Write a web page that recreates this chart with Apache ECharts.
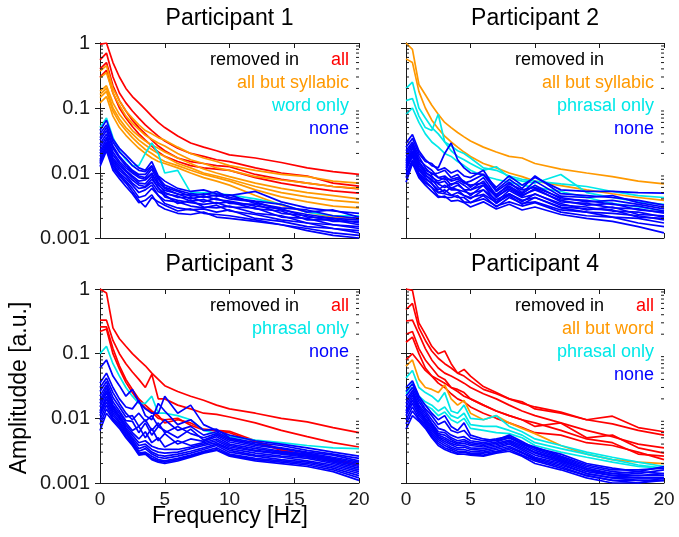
<!DOCTYPE html>
<html>
<head>
<meta charset="utf-8">
<script src="https://cdn.jsdelivr.net/npm/echarts@6/dist/echarts.min.js"></script>
<style>
  html, body { margin: 0; padding: 0; background: #fff; }
  #chart { width: 679px; height: 537px; }
</style>
</head>
<body>
<div id="chart"></div>
<script>
// frequency grid (Hz) shared by every spectrum
const freq = [0, 0.5, 1, 1.5, 2, 2.5, 3, 3.5, 4, 4.5, 5, 6, 7, 8, 9, 10, 12, 14, 16, 18, 20]
const xTicks = [0, 5, 10, 15, 20]
const yTickLabels = ['0.001', '0.01', '0.1', '1']
const yMinorTicks = [0.002, 0.003, 0.004, 0.005, 0.006, 0.007, 0.008, 0.009,
  0.02, 0.03, 0.04, 0.05, 0.06, 0.07, 0.08, 0.09,
  0.2, 0.3, 0.4, 0.5, 0.6, 0.7, 0.8, 0.9]
const titles = ['Participant 1', 'Participant 2', 'Participant 3', 'Participant 4']

// Participant 1
const p1All = [
  [0.95, 1.0, 0.5, 0.3, 0.2, 0.15, 0.12, 0.095, 0.075, 0.06, 0.05, 0.037, 0.029, 0.025, 0.022, 0.019, 0.017, 0.0145, 0.012, 0.0105, 0.0095],
  [0.55, 0.7, 0.3, 0.17, 0.12, 0.09, 0.07, 0.055, 0.045, 0.037, 0.031, 0.024, 0.02, 0.018, 0.016, 0.015, 0.012, 0.01, 0.009, 0.007, 0.0063],
  [0.4, 0.5, 0.22, 0.13, 0.09, 0.065, 0.05, 0.04, 0.032, 0.026, 0.022, 0.017, 0.015, 0.014, 0.013, 0.0125, 0.0095, 0.008, 0.007, 0.0062, 0.0057],
  [0.3, 0.38, 0.17, 0.1, 0.07, 0.052, 0.04, 0.032, 0.026, 0.021, 0.018, 0.015, 0.013, 0.012, 0.0115, 0.011, 0.0085, 0.007, 0.006, 0.0053, 0.0049]
]
const p1ButSyl = [
  [0.37, 0.45, 0.2, 0.13, 0.09, 0.07, 0.055, 0.045, 0.04, 0.035, 0.032, 0.025, 0.02, 0.017, 0.015, 0.013, 0.011, 0.0095, 0.0088, 0.0075, 0.007],
  [0.29, 0.35, 0.17, 0.11, 0.075, 0.058, 0.047, 0.038, 0.033, 0.029, 0.026, 0.02, 0.016, 0.014, 0.012, 0.011, 0.0088, 0.0078, 0.007, 0.0062, 0.0058],
  [0.18, 0.22, 0.12, 0.08, 0.06, 0.045, 0.037, 0.031, 0.027, 0.024, 0.021, 0.017, 0.014, 0.0115, 0.01, 0.0088, 0.007, 0.0058, 0.005, 0.0045, 0.004],
  [0.16, 0.2, 0.1, 0.068, 0.05, 0.04, 0.032, 0.027, 0.023, 0.02, 0.018, 0.014, 0.012, 0.01, 0.009, 0.008, 0.0062, 0.005, 0.0043, 0.0038, 0.0035],
  [0.145, 0.18, 0.09, 0.06, 0.045, 0.035, 0.028, 0.023, 0.02, 0.017, 0.015, 0.013, 0.011, 0.0095, 0.0085, 0.0075, 0.0055, 0.0043, 0.0036, 0.0031, 0.0029],
  [0.12, 0.15, 0.075, 0.05, 0.038, 0.03, 0.024, 0.02, 0.017, 0.015, 0.014, 0.012, 0.01, 0.0085, 0.0075, 0.0065, 0.0045, 0.0032, 0.0025, 0.0021, 0.002]
]
const p1Word = [
  [0.05, 0.07, 0.035, 0.022, 0.016, 0.013, 0.013, 0.02, 0.029, 0.02, 0.01, 0.011, 0.005, 0.005, 0.0048, 0.0046, 0.004, 0.0033, 0.0025, 0.0022, 0.0022]
]
const p1None = [
  [0.045, 0.065, 0.033, 0.024, 0.019, 0.015, 0.012, 0.011, 0.015, 0.009, 0.0075, 0.0058, 0.0052, 0.0055, 0.0048, 0.0045, 0.0052, 0.0036, 0.0029, 0.0026, 0.0024],
  [0.04, 0.055, 0.03, 0.021, 0.017, 0.013, 0.011, 0.0105, 0.013, 0.0085, 0.0065, 0.0054, 0.0048, 0.0046, 0.0052, 0.0042, 0.0037, 0.0033, 0.0025, 0.0027, 0.0021],
  [0.035, 0.05, 0.026, 0.018, 0.014, 0.011, 0.0095, 0.0095, 0.0125, 0.008, 0.006, 0.0052, 0.0044, 0.0048, 0.0044, 0.0046, 0.0034, 0.0029, 0.0027, 0.0022, 0.002],
  [0.032, 0.045, 0.024, 0.017, 0.013, 0.0105, 0.009, 0.0085, 0.0115, 0.0072, 0.0058, 0.0047, 0.0046, 0.0042, 0.0046, 0.004, 0.0036, 0.0027, 0.0023, 0.002, 0.0019],
  [0.028, 0.04, 0.021, 0.015, 0.012, 0.01, 0.0085, 0.008, 0.01, 0.0065, 0.0054, 0.0048, 0.004, 0.0044, 0.0039, 0.0037, 0.0031, 0.0028, 0.0021, 0.002, 0.0017],
  [0.025, 0.036, 0.019, 0.014, 0.011, 0.009, 0.0075, 0.0078, 0.0095, 0.0068, 0.005, 0.0042, 0.0042, 0.0036, 0.0041, 0.0034, 0.0033, 0.0024, 0.0022, 0.0018, 0.0018],
  [0.022, 0.033, 0.017, 0.013, 0.0105, 0.0085, 0.007, 0.0068, 0.0088, 0.0058, 0.0048, 0.0044, 0.0037, 0.0039, 0.0034, 0.0036, 0.0028, 0.0026, 0.0019, 0.0019, 0.0016],
  [0.02, 0.03, 0.016, 0.012, 0.0095, 0.0078, 0.0065, 0.0062, 0.008, 0.006, 0.0043, 0.0038, 0.0035, 0.0033, 0.0035, 0.003, 0.0029, 0.0021, 0.002, 0.0016, 0.0015],
  [0.018, 0.028, 0.015, 0.011, 0.009, 0.007, 0.0058, 0.006, 0.0072, 0.0052, 0.0046, 0.0034, 0.0038, 0.003, 0.0029, 0.0031, 0.0024, 0.0022, 0.0017, 0.0016, 0.0014],
  [0.016, 0.026, 0.014, 0.01, 0.0082, 0.0065, 0.005, 0.0055, 0.0065, 0.0045, 0.0038, 0.0036, 0.0031, 0.0029, 0.0032, 0.0026, 0.0023, 0.0019, 0.0017, 0.0014, 0.0013],
  [0.015, 0.025, 0.013, 0.0095, 0.0075, 0.0058, 0.0042, 0.0045, 0.0058, 0.0045, 0.0034, 0.0029, 0.0027, 0.0028, 0.0025, 0.0027, 0.002, 0.0018, 0.0015, 0.0014, 0.0012],
  [0.014, 0.024, 0.012, 0.009, 0.007, 0.0052, 0.0038, 0.003, 0.0042, 0.0036, 0.0032, 0.0026, 0.0028, 0.0024, 0.0023, 0.0022, 0.0019, 0.0016, 0.0014, 0.0012, 0.0011],
  [0.0126, 0.022, 0.011, 0.0082, 0.0062, 0.0048, 0.0035, 0.0038, 0.0046, 0.0032, 0.0028, 0.0024, 0.0023, 0.0025, 0.0021, 0.002, 0.0018, 0.0016, 0.0013, 0.0011, 0.001]
]

// Participant 2
const p2ButSyl = [
  [1.0, 0.8, 0.23, 0.16, 0.11, 0.08, 0.06, 0.05, 0.042, 0.036, 0.031, 0.025, 0.021, 0.018, 0.017, 0.014, 0.0115, 0.01, 0.0088, 0.0075, 0.0068],
  [0.57, 0.5, 0.18, 0.1, 0.065, 0.048, 0.037, 0.03, 0.025, 0.021, 0.018, 0.014, 0.012, 0.01, 0.0088, 0.0075, 0.0064, 0.0055, 0.0048, 0.0042, 0.0038]
]
const p2Phrasal = [
  [0.2, 0.25, 0.1, 0.07, 0.05, 0.04, 0.03, 0.026, 0.022, 0.02, 0.017, 0.012, 0.011, 0.009, 0.008, 0.0075, 0.0068, 0.0062, 0.0052, 0.0045, 0.0042],
  [0.13, 0.14, 0.075, 0.05, 0.045, 0.08, 0.03, 0.022, 0.018, 0.016, 0.014, 0.011, 0.0125, 0.0085, 0.0075, 0.007, 0.0095, 0.005, 0.0042, 0.0036, 0.0033],
  [0.08, 0.1, 0.06, 0.04, 0.03, 0.025, 0.02, 0.018, 0.015, 0.013, 0.011, 0.009, 0.008, 0.0072, 0.0065, 0.006, 0.0052, 0.0042, 0.0034, 0.003, 0.0026]
]
const p2None = [
  [0.029, 0.039, 0.022, 0.016, 0.013, 0.012, 0.02, 0.029, 0.016, 0.012, 0.01, 0.0095, 0.006, 0.009, 0.0065, 0.0085, 0.0055, 0.0052, 0.0052, 0.005, 0.0049],
  [0.025, 0.034, 0.02, 0.015, 0.014, 0.011, 0.012, 0.01, 0.011, 0.009, 0.0085, 0.011, 0.0055, 0.008, 0.0058, 0.009, 0.0048, 0.0045, 0.0042, 0.0038, 0.0032],
  [0.022, 0.03, 0.018, 0.012, 0.0095, 0.01, 0.011, 0.0085, 0.0095, 0.007, 0.0075, 0.0095, 0.0052, 0.0072, 0.005, 0.0075, 0.0044, 0.0042, 0.0045, 0.0035, 0.003],
  [0.02, 0.028, 0.016, 0.013, 0.011, 0.0085, 0.008, 0.008, 0.0085, 0.0075, 0.006, 0.0085, 0.0045, 0.0068, 0.0055, 0.006, 0.0042, 0.0036, 0.0038, 0.0033, 0.0028],
  [0.018, 0.026, 0.015, 0.011, 0.01, 0.0085, 0.009, 0.0075, 0.008, 0.007, 0.0065, 0.007, 0.0047, 0.0063, 0.0048, 0.0065, 0.004, 0.0038, 0.0033, 0.0031, 0.0026],
  [0.016, 0.024, 0.014, 0.0105, 0.0085, 0.0075, 0.0085, 0.0065, 0.0075, 0.0065, 0.0055, 0.0075, 0.0042, 0.006, 0.0046, 0.0055, 0.0038, 0.0032, 0.0034, 0.0027, 0.0025],
  [0.015, 0.022, 0.013, 0.01, 0.009, 0.0068, 0.006, 0.0068, 0.007, 0.0055, 0.0055, 0.0065, 0.0043, 0.0057, 0.0044, 0.0058, 0.0036, 0.0034, 0.0029, 0.0028, 0.0024],
  [0.014, 0.021, 0.012, 0.0095, 0.0075, 0.007, 0.0075, 0.0058, 0.0065, 0.0056, 0.0045, 0.0065, 0.0036, 0.0054, 0.0042, 0.0047, 0.0034, 0.0027, 0.003, 0.0023, 0.0022],
  [0.013, 0.02, 0.0115, 0.009, 0.008, 0.006, 0.005, 0.006, 0.0055, 0.0052, 0.0048, 0.0055, 0.0039, 0.0048, 0.0036, 0.0048, 0.0032, 0.003, 0.0026, 0.0025, 0.0021],
  [0.012, 0.019, 0.011, 0.0085, 0.0068, 0.0055, 0.0065, 0.0055, 0.0055, 0.0045, 0.004, 0.0055, 0.0034, 0.0048, 0.0038, 0.0042, 0.003, 0.0028, 0.0027, 0.0021, 0.002],
  [0.011, 0.018, 0.01, 0.008, 0.007, 0.005, 0.0048, 0.0045, 0.005, 0.0045, 0.0042, 0.0047, 0.0035, 0.0045, 0.0033, 0.0042, 0.0029, 0.0025, 0.0024, 0.0022, 0.0019],
  [0.0095, 0.016, 0.0095, 0.0075, 0.006, 0.005, 0.0055, 0.0046, 0.0042, 0.0042, 0.0035, 0.0045, 0.003, 0.0042, 0.0034, 0.0036, 0.0027, 0.0025, 0.0021, 0.002, 0.0017],
  [0.0085, 0.015, 0.009, 0.007, 0.006, 0.0044, 0.0042, 0.0042, 0.0045, 0.0036, 0.0035, 0.004, 0.0031, 0.0036, 0.0031, 0.0035, 0.0025, 0.0022, 0.0021, 0.0017, 0.0015],
  [0.0072, 0.014, 0.0085, 0.0065, 0.0052, 0.0042, 0.0044, 0.0037, 0.0038, 0.0035, 0.003, 0.0036, 0.0028, 0.0033, 0.0027, 0.003, 0.0023, 0.002, 0.0018, 0.0015, 0.0012]
]

// Participant 3
const p3All = [
  [1.0, 0.87, 0.25, 0.17, 0.13, 0.1, 0.08, 0.065, 0.05, 0.04, 0.032, 0.026, 0.022, 0.019, 0.016, 0.014, 0.012, 0.01, 0.0088, 0.0072, 0.006],
  [0.33, 0.33, 0.16, 0.1, 0.07, 0.052, 0.04, 0.03, 0.048, 0.02, 0.02, 0.016, 0.014, 0.012, 0.0115, 0.0105, 0.0085, 0.0065, 0.0052, 0.0042, 0.0036],
  [0.26, 0.26, 0.12, 0.065, 0.04, 0.028, 0.02, 0.016, 0.013, 0.011, 0.0085, 0.0095, 0.0085, 0.0068, 0.0065, 0.0063, 0.0045, 0.0033, 0.0027, 0.0023, 0.002],
  [0.22, 0.24, 0.1, 0.058, 0.036, 0.025, 0.018, 0.0145, 0.0125, 0.01, 0.0095, 0.01, 0.0078, 0.0066, 0.0064, 0.006, 0.0043, 0.0032, 0.0026, 0.0022, 0.0019]
]
const p3Phrasal = [
  [0.1, 0.13, 0.07, 0.045, 0.03, 0.022, 0.017, 0.017, 0.022, 0.012, 0.012, 0.011, 0.0095, 0.0065, 0.0058, 0.0052, 0.0046, 0.0042, 0.0038, 0.0035, 0.0034]
]
const p3None = [
  [0.06, 0.08, 0.045, 0.032, 0.022, 0.028, 0.018, 0.014, 0.012, 0.012, 0.022, 0.012, 0.016, 0.008, 0.0065, 0.0055, 0.0045, 0.004, 0.0035, 0.003, 0.0026],
  [0.035, 0.05, 0.03, 0.02, 0.015, 0.014, 0.019, 0.011, 0.0095, 0.017, 0.013, 0.008, 0.0095, 0.0065, 0.0068, 0.005, 0.0042, 0.0038, 0.0032, 0.0028, 0.0024],
  [0.03, 0.042, 0.025, 0.017, 0.012, 0.0095, 0.012, 0.009, 0.011, 0.0075, 0.0095, 0.0065, 0.0075, 0.0055, 0.0062, 0.0048, 0.004, 0.0035, 0.003, 0.0027, 0.0022],
  [0.026, 0.037, 0.021, 0.015, 0.0105, 0.011, 0.0075, 0.0095, 0.0065, 0.0085, 0.006, 0.0075, 0.0058, 0.005, 0.0058, 0.0046, 0.0038, 0.0034, 0.0029, 0.0025, 0.0021],
  [0.022, 0.033, 0.018, 0.013, 0.0092, 0.009, 0.006, 0.0085, 0.0055, 0.0075, 0.0065, 0.005, 0.0068, 0.0046, 0.0055, 0.0043, 0.0036, 0.0031, 0.0028, 0.0024, 0.002],
  [0.019, 0.03, 0.016, 0.012, 0.0085, 0.0065, 0.0075, 0.005, 0.007, 0.0045, 0.0058, 0.004, 0.0048, 0.0044, 0.0052, 0.004, 0.0034, 0.003, 0.0027, 0.0023, 0.0019],
  [0.017, 0.027, 0.015, 0.011, 0.0078, 0.006, 0.0048, 0.0062, 0.0042, 0.005, 0.0036, 0.0045, 0.0038, 0.0042, 0.0048, 0.0038, 0.0032, 0.0029, 0.0026, 0.0022, 0.0018],
  [0.015, 0.025, 0.014, 0.0105, 0.0072, 0.0055, 0.0042, 0.0045, 0.0037, 0.0034, 0.0033, 0.0033, 0.0036, 0.004, 0.0045, 0.0036, 0.0031, 0.0028, 0.0025, 0.0021, 0.0017],
  [0.013, 0.022, 0.013, 0.0098, 0.0068, 0.005, 0.0038, 0.004, 0.0033, 0.003, 0.0029, 0.003, 0.0034, 0.0038, 0.0042, 0.0034, 0.0029, 0.0026, 0.0024, 0.002, 0.0016],
  [0.012, 0.02, 0.012, 0.009, 0.0064, 0.0047, 0.0034, 0.0037, 0.003, 0.0027, 0.0026, 0.0028, 0.0031, 0.0035, 0.004, 0.0032, 0.0027, 0.0025, 0.0022, 0.0019, 0.0015],
  [0.011, 0.018, 0.011, 0.0085, 0.006, 0.0044, 0.0031, 0.0034, 0.0028, 0.0025, 0.0024, 0.0026, 0.0029, 0.0033, 0.0038, 0.003, 0.0026, 0.0023, 0.0021, 0.0018, 0.0014],
  [0.0095, 0.016, 0.01, 0.008, 0.0056, 0.0042, 0.0029, 0.003, 0.0026, 0.0023, 0.0022, 0.0024, 0.0027, 0.0031, 0.0035, 0.0028, 0.0024, 0.0022, 0.002, 0.0017, 0.0013],
  [0.008, 0.014, 0.0095, 0.0075, 0.0052, 0.004, 0.0028, 0.0029, 0.0024, 0.0022, 0.0021, 0.0023, 0.0026, 0.003, 0.0033, 0.0027, 0.0023, 0.0021, 0.0019, 0.0016, 0.0012],
  [0.0065, 0.012, 0.009, 0.007, 0.005, 0.0038, 0.0027, 0.0028, 0.0023, 0.0021, 0.002, 0.0022, 0.0025, 0.0029, 0.0032, 0.0026, 0.0022, 0.002, 0.0018, 0.0015, 0.0011]
]

// Participant 4
const p4All = [
  [1.0, 0.95, 0.3, 0.2, 0.13, 0.1, 0.11, 0.07, 0.05, 0.057, 0.045, 0.031, 0.025, 0.02, 0.017, 0.015, 0.0125, 0.0095, 0.0108, 0.0072, 0.0062],
  [0.48, 0.6, 0.25, 0.16, 0.11, 0.085, 0.07, 0.06, 0.05, 0.045, 0.038, 0.028, 0.024, 0.02, 0.018, 0.014, 0.012, 0.0095, 0.0082, 0.0065, 0.0055],
  [0.32, 0.33, 0.2, 0.12, 0.08, 0.06, 0.05, 0.045, 0.04, 0.035, 0.03, 0.024, 0.02, 0.016, 0.013, 0.011, 0.0085, 0.0065, 0.0052, 0.004, 0.0035],
  [0.08, 0.1, 0.075, 0.055, 0.045, 0.04, 0.035, 0.03, 0.026, 0.022, 0.02, 0.016, 0.013, 0.011, 0.0095, 0.0075, 0.0085, 0.005, 0.0055, 0.0035, 0.0029],
  [0.2, 0.22, 0.12, 0.08, 0.06, 0.045, 0.04, 0.03, 0.028, 0.025, 0.02, 0.016, 0.013, 0.011, 0.0095, 0.0085, 0.0065, 0.0048, 0.0042, 0.0028, 0.0026],
  [0.15, 0.18, 0.1, 0.06, 0.045, 0.035, 0.03, 0.024, 0.02, 0.018, 0.015, 0.012, 0.01, 0.0085, 0.0072, 0.006, 0.0055, 0.0042, 0.0038, 0.003, 0.0023]
]
const p4ButWord = [
  [0.064, 0.08, 0.04, 0.03, 0.028, 0.025, 0.033, 0.02, 0.016, 0.019, 0.012, 0.0095, 0.011, 0.0085, 0.007, 0.0058, 0.0038, 0.0028, 0.0023, 0.0021, 0.002]
]
const p4Phrasal = [
  [0.042, 0.055, 0.03, 0.025, 0.022, 0.018, 0.025, 0.013, 0.012, 0.016, 0.01, 0.0095, 0.011, 0.0075, 0.0062, 0.0048, 0.0038, 0.003, 0.0025, 0.0021, 0.0018],
  [0.026, 0.035, 0.022, 0.018, 0.016, 0.013, 0.015, 0.011, 0.01, 0.012, 0.008, 0.0075, 0.0075, 0.0065, 0.0055, 0.0042, 0.0034, 0.0028, 0.0023, 0.0019, 0.0017],
  [0.024, 0.03, 0.02, 0.016, 0.014, 0.011, 0.0125, 0.0095, 0.0085, 0.01, 0.007, 0.0065, 0.006, 0.0058, 0.005, 0.0038, 0.003, 0.0025, 0.0021, 0.0018, 0.0017]
]
const p4None = [
  [0.03, 0.038, 0.022, 0.016, 0.012, 0.0095, 0.011, 0.0075, 0.0065, 0.0085, 0.0055, 0.0048, 0.0045, 0.005, 0.004, 0.0035, 0.0028, 0.002, 0.0017, 0.0015, 0.0018],
  [0.026, 0.034, 0.02, 0.014, 0.011, 0.008, 0.009, 0.0065, 0.006, 0.0065, 0.005, 0.0045, 0.0048, 0.0052, 0.0042, 0.0036, 0.0026, 0.0019, 0.0016, 0.0016, 0.0017],
  [0.022, 0.03, 0.018, 0.013, 0.0095, 0.007, 0.0065, 0.0055, 0.005, 0.0052, 0.0045, 0.0042, 0.0046, 0.0055, 0.0044, 0.0034, 0.0025, 0.0018, 0.0015, 0.0014, 0.0016],
  [0.019, 0.027, 0.016, 0.012, 0.0085, 0.0062, 0.006, 0.005, 0.0045, 0.0047, 0.0042, 0.004, 0.0043, 0.005, 0.004, 0.0032, 0.0024, 0.0017, 0.0014, 0.0015, 0.0014],
  [0.017, 0.025, 0.015, 0.011, 0.008, 0.0058, 0.0055, 0.0047, 0.0042, 0.0044, 0.004, 0.0038, 0.0041, 0.0046, 0.0038, 0.003, 0.0023, 0.0016, 0.0014, 0.0013, 0.0014],
  [0.015, 0.023, 0.014, 0.01, 0.0075, 0.0055, 0.005, 0.0044, 0.004, 0.0041, 0.0038, 0.0036, 0.0039, 0.0044, 0.0036, 0.0029, 0.0022, 0.0016, 0.0013, 0.0013, 0.0013],
  [0.013, 0.021, 0.013, 0.0095, 0.007, 0.0052, 0.0047, 0.0041, 0.0038, 0.0038, 0.0035, 0.0034, 0.0037, 0.0042, 0.0034, 0.0027, 0.0021, 0.0015, 0.0013, 0.0012, 0.0012],
  [0.012, 0.019, 0.012, 0.009, 0.0065, 0.005, 0.0044, 0.0039, 0.0035, 0.0036, 0.0033, 0.0032, 0.0035, 0.004, 0.0032, 0.0025, 0.002, 0.0014, 0.0012, 0.0012, 0.0012],
  [0.011, 0.017, 0.011, 0.0085, 0.006, 0.0047, 0.0041, 0.0036, 0.0033, 0.0033, 0.0031, 0.003, 0.0033, 0.0037, 0.003, 0.0024, 0.0019, 0.0014, 0.0012, 0.0011, 0.0011],
  [0.0095, 0.015, 0.01, 0.008, 0.0056, 0.0044, 0.0038, 0.0034, 0.0031, 0.0031, 0.0029, 0.0029, 0.0031, 0.0035, 0.0029, 0.0023, 0.0018, 0.0013, 0.0011, 0.0011, 0.0011],
  [0.0082, 0.013, 0.0095, 0.0075, 0.0052, 0.0041, 0.0035, 0.0032, 0.0029, 0.003, 0.0028, 0.0027, 0.003, 0.0033, 0.0027, 0.0022, 0.0017, 0.0013, 0.0011, 0.001, 0.0012],
  [0.0068, 0.011, 0.009, 0.007, 0.005, 0.0038, 0.0033, 0.003, 0.0028, 0.0028, 0.0027, 0.0026, 0.0029, 0.0031, 0.0026, 0.002, 0.0016, 0.0012, 0.001, 0.001, 0.0011]
]

// colours
const RED = '#ff0000'
const ORANGE = '#ff9900'
const CYAN = '#00e8e8'
const BLUE = '#0000ff'
const INK = '#1a1a1a'
const FONT = '"Liberation Sans", Arial, sans-serif'

// each panel: groups drawn in legend order, legend rows
const panels = [
  { groups: [[p1All, RED], [p1ButSyl, ORANGE], [p1Word, CYAN], [p1None, BLUE]],
    rows: [['all', RED], ['all but syllabic', ORANGE], ['word only', CYAN], ['none', BLUE]] },
  { groups: [[p2ButSyl, ORANGE], [p2Phrasal, CYAN], [p2None, BLUE]],
    rows: [[null, null], ['all but syllabic', ORANGE], ['phrasal only', CYAN], ['none', BLUE]] },
  { groups: [[p3All, RED], [p3Phrasal, CYAN], [p3None, BLUE]],
    rows: [['all', RED], ['phrasal only', CYAN], ['none', BLUE]] },
  { groups: [[p4All, RED], [p4ButWord, ORANGE], [p4Phrasal, CYAN], [p4None, BLUE]],
    rows: [['all', RED], ['all but word', ORANGE], ['phrasal only', CYAN], ['none', BLUE]] }
]

// panel rectangles (px)
const rects = [
  { left: 100, top: 43, width: 259, height: 195 },
  { left: 406, top: 43, width: 258, height: 195 },
  { left: 100, top: 289, width: 259, height: 194 },
  { left: 406, top: 289, width: 258, height: 194 }
]

const chart = echarts.init(document.getElementById('chart'), null, { renderer: 'canvas' })

const grid = []
const xAxis = []
const yAxis = []
const series = []
const graphic = []

const axisLine = { show: true, lineStyle: { color: INK, width: 1 } }
const tick = { show: true, inside: true, length: 5, lineStyle: { color: INK } }

// minor log ticks at 2..9 x 10^k on both vertical edges
const minorTickItem = (params, api) => {
  const v = api.value(1)
  const a = api.coord([0, v])
  const b = api.coord([20, v])
  return {
    type: 'group',
    children: [
      { type: 'line', shape: { x1: a[0], y1: a[1], x2: a[0] + 3, y2: a[1] }, style: { stroke: INK, lineWidth: 1 } },
      { type: 'line', shape: { x1: b[0] - 3, y1: b[1], x2: b[0], y2: b[1] }, style: { stroke: INK, lineWidth: 1 } }
    ]
  }
}

rects.forEach((r, p) => {
  grid.push({ left: r.left, top: r.top, width: r.width, height: r.height, containLabel: false })
  const bottomRow = p >= 2
  const leftCol = p % 2 === 0
  const xBase = {
    type: 'value', gridIndex: p, min: 0, max: 20, interval: 5,
    axisLine, axisTick: tick, splitLine: { show: false }
  }
  xAxis.push(Object.assign({}, xBase, {
    position: 'bottom',
    axisLabel: {
      show: bottomRow, color: INK, fontSize: 19, fontFamily: FONT, margin: 7,
      formatter: v => xTicks.includes(v) ? String(v) : ''
    }
  }))
  xAxis.push(Object.assign({}, xBase, { position: 'top', axisLabel: { show: false } }))
  const yBase = {
    type: 'log', logBase: 10, gridIndex: p, min: 0.001, max: 1,
    axisLine, axisTick: tick,
    minorTick: { show: false }, splitLine: { show: false }
  }
  yAxis.push(Object.assign({}, yBase, {
    position: 'left',
    axisLabel: {
      show: leftCol, color: INK, fontSize: 20, fontFamily: FONT, margin: 10,
      formatter: v => yTickLabels[Math.round(Math.log10(v)) + 3] || ''
    }
  }))
  yAxis.push(Object.assign({}, yBase, { position: 'right', axisLabel: { show: false } }))

  series.push({
    type: 'custom', xAxisIndex: 2 * p, yAxisIndex: 2 * p, silent: true, clip: false,
    data: yMinorTicks.map(v => [0, v]), renderItem: minorTickItem, z: 5
  })

  panels[p].groups.forEach(([lines, color]) => {
    lines.forEach(vals => {
      series.push({
        type: 'line', xAxisIndex: 2 * p, yAxisIndex: 2 * p,
        data: freq.map((f, i) => [f, vals[i]]),
        showSymbol: false, symbol: 'none', silent: true, animation: false,
        lineStyle: { color, width: 1.7 }
      })
    })
  })

  // title
  graphic.push({
    type: 'text', x: r.left + r.width / 2, y: r.top - 24, silent: true,
    style: { text: titles[p], font: '23px ' + FONT, fill: '#000',
      align: 'center', verticalAlign: 'middle', textAlign: 'center', textVerticalAlign: 'middle' }
  })
  // legend text
  const right = r.left + r.width
  graphic.push({
    type: 'text', x: right - 60, y: r.top + 17, silent: true,
    style: { text: 'removed in', font: '18px ' + FONT, fill: '#000',
      align: 'right', verticalAlign: 'middle', textAlign: 'right', textVerticalAlign: 'middle' }
  })
  panels[p].rows.forEach(([label, color], i) => {
    if (!label) return
    graphic.push({
      type: 'text', x: right - 10, y: r.top + 17 + 23 * i, silent: true,
      style: { text: label, font: '18px ' + FONT, fill: color,
        align: 'right', verticalAlign: 'middle', textAlign: 'right', textVerticalAlign: 'middle' }
    })
  })
})

// shared axis names
graphic.push({
  type: 'text', x: 230, y: 517, silent: true,
  style: { text: 'Frequency [Hz]', font: '23px ' + FONT, fill: '#000',
    align: 'center', verticalAlign: 'middle', textAlign: 'center', textVerticalAlign: 'middle' }
})
graphic.push({
  type: 'text', x: 20, y: 388, rotation: Math.PI / 2, silent: true,
  style: { text: 'Amplitudde [a.u.]', font: '23px ' + FONT, fill: '#000',
    align: 'center', verticalAlign: 'middle', textAlign: 'center', textVerticalAlign: 'middle' }
})

chart.setOption({
  animation: false,
  backgroundColor: '#ffffff',
  grid, xAxis, yAxis, series, graphic
})
</script>
</body>
</html>
